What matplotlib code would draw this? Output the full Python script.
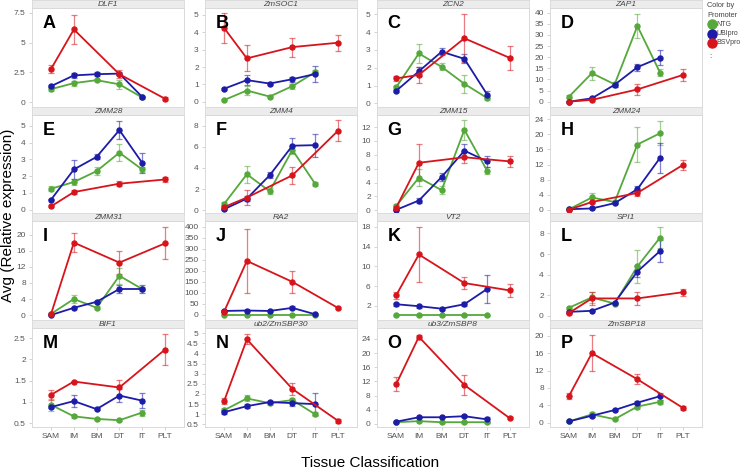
import numpy as np
import matplotlib
matplotlib.use("Agg")
import matplotlib.pyplot as plt
from matplotlib.lines import Line2D

plt.rcParams['font.family'] = ['Liberation Sans', 'DejaVu Sans']

tissues = ["SAM", "IM", "BM", "DT", "IT", "PLT"]
ntg_tissues = ["SAM", "IM", "BM", "DT", "IT"]
ubi_tissues = ["SAM", "IM", "BM", "DT", "IT"]
bsv_tissues = ["SAM", "IM", "DT", "PLT"]

genes = ["DLF1", "ZmSOC1", "ZCN2", "ZAP1",
         "ZMM28", "ZMM4", "ZMM15", "ZMM24",
         "ZMM31", "RA2", "VT2", "SPI1",
         "BIF1", "ub2/ZmSBP30", "ub3/ZmSBP8", "ZmSBP18"]
letters = list("ABCDEFGHIJKLMNOP")

# NTG (green)
ntg_vals = [
    [1.1, 1.6, 1.85, 1.5, 0.4],
    [0.1, 0.65, 0.3, 0.9, 1.7],
    [0.9, 2.8, 2.05, 1.1, 0.3],
    [2.3, 12.8, 7.8, 34, 13],
    [1.25, 1.65, 2.3, 3.4, 2.4],
    [0.6, 3.4, 1.8, 5.7, 2.5],
    [0.6, 4.7, 2.9, 11.6, 5.7],
    [0.2, 3.3, 2.1, 17.3, 20.3],
    [0.3, 4.0, 1.8, 9.8, 6.5],
    [0.5, 0.5, 0.5, 0.5, 0.5],
    [0.05, 0.05, 0.05, 0.05, 0.05],
    [0.8, 1.8, 1.2, 4.8, 7.6],
    [0.93, 0.66, 0.6, 0.57, 0.75],
    [1.2, 1.78, 1.55, 1.7, 1.0],
    [0.5, 0.8, 0.5, 0.5, 0.5],
    [0.3, 1.9, 0.8, 3.7, 4.8],
]
ntg_err = [
    [0.15, 0.2, 0.1, 0.4, 0.1],
    [0.05, 0.25, 0.05, 0.15, 0.15],
    [0.1, 0.55, 0.2, 0.5, 0.1],
    [0.5, 3, 1, 5.5, 1.5],
    [0.15, 0.15, 0.25, 0.5, 0.15],
    [0.2, 0.8, 0.3, 0.4, 0.2],
    [0.3, 1.2, 0.6, 1.4, 0.5],
    [0.2, 1.2, 0.3, 4.7, 3.2],
    [0.2, 1.0, 0.4, 2.0, 0.5],
    [0.3, 0.3, 0.3, 0.3, 0.3],
    [0.05, 0.05, 0.05, 0.05, 0.05],
    [0.1, 0.5, 0.1, 1.6, 1.0],
    [0.15, 0.03, 0.02, 0.02, 0.07],
    [0.1, 0.15, 0.1, 0.1, 0.1],
    [0.1, 0.1, 0.1, 0.1, 0.1],
    [0.1, 0.6, 0.2, 0.5, 0.4],
]

# UBIpro (blue)
ubi_vals = [
    [1.35, 2.25, 2.35, 2.4, 0.45],
    [0.75, 1.25, 1.05, 1.3, 1.6],
    [0.7, 1.8, 2.9, 2.5, 0.5],
    [0, 1.5, 7.6, 15.5, 19.8],
    [0.6, 2.4, 3.15, 4.75, 2.8],
    [0.1, 1.1, 3.3, 6.1, 6.15],
    [0.05, 1.4, 4.8, 8.6, 7.05],
    [0.2, 0.4, 1.8, 5.5, 13.8],
    [0, 1.8, 3.3, 6.5, 6.5],
    [18, 20, 18, 32, 3],
    [2.3, 1.9, 1.4, 2.3, 5.4],
    [0.4, 0.5, 1.3, 4.3, 6.3],
    [0.88, 1.02, 0.83, 1.15, 1.03],
    [1.1, 1.4, 1.6, 1.55, 1.5],
    [0.65, 1.9, 1.9, 2.2, 1.3],
    [0.3, 1.6, 2.9, 4.6, 6.1],
]
ubi_err = [
    [0.1, 0.2, 0.15, 0.15, 0.08],
    [0.05, 0.3, 0.08, 0.15, 0.45],
    [0.08, 0.25, 0.2, 0.25, 0.2],
    [0.2, 0.5, 1.0, 1.5, 3.5],
    [0.05, 0.55, 0.15, 0.55, 0.6],
    [0.05, 0.2, 0.3, 0.7, 1.1],
    [0.05, 0.3, 0.6, 0.9, 0.8],
    [0.1, 0.1, 0.3, 0.8, 3.9],
    [0.1, 0.3, 0.3, 1.0, 1.0],
    [3, 3, 3, 7, 1],
    [0.3, 0.3, 0.2, 0.4, 2.8],
    [0.1, 0.05, 0.1, 0.5, 1.1],
    [0.03, 0.15, 0.02, 0.15, 0.18],
    [0.1, 0.1, 0.05, 0.15, 0.55],
    [0.1, 0.2, 0.2, 0.2, 0.6],
    [0.1, 0.2, 0.2, 0.4, 0.8],
]

# BSVpro (red)
bsv_vals = [
    [2.8, 6.1, 2.35, 0.3],
    [4.25, 2.5, 3.15, 3.4],
    [1.4, 1.6, 3.65, 2.55],
    [0, 0.8, 5.5, 12],
    [0.2, 1.05, 1.55, 1.8],
    [0.3, 1.2, 3.3, 7.5],
    [0.35, 6.85, 7.65, 7.05],
    [0.1, 2.1, 4.5, 11.9],
    [0.3, 18.1, 13.1, 17.9],
    [15, 245, 150, 32],
    [4.1, 12.4, 6.6, 5.1],
    [0.3, 1.7, 1.7, 2.3],
    [1.17, 1.48, 1.34, 2.23],
    [1.65, 4.7, 2.25, 0.68],
    [11.2, 24.6, 11.0, 1.6],
    [6.2, 16, 10, 3.4],
]
bsv_err = [
    [0.35, 1.2, 0.35, 0.1],
    [0.85, 0.75, 0.55, 0.45],
    [0.15, 0.45, 1.35, 0.65],
    [0.2, 0.5, 2.3, 2.5],
    [0.05, 0.1, 0.15, 0.12],
    [0.1, 0.7, 0.8, 1.0],
    [0.2, 2.7, 0.9, 0.8],
    [0.1, 0.3, 0.7, 1.4],
    [0.2, 2.4, 2.9, 4.0],
    [3, 145, 50, 5],
    [0.7, 5.5, 1.3, 1.4],
    [0.1, 0.6, 0.6, 0.35],
    [0.12, 0.02, 0.18, 0.37],
    [0.15, 0.25, 0.3, 0.1],
    [2.0, 0.6, 2.8, 0.3],
    [0.7, 4.2, 1.2, 0.5],
]

# axis setup per panel
yticks = [
    [0, 2.5, 5, 7.5], np.arange(0, 6, 1), np.arange(0, 6, 1), np.arange(0, 45, 5),
    np.arange(0, 6, 1), np.arange(0, 10, 2), np.arange(0, 14, 2), np.arange(0, 28, 4),
    np.arange(0, 24, 4), np.arange(0, 450, 50), np.arange(2, 22, 4), np.arange(0, 10, 2),
    np.arange(0.5, 3.0, 0.5), np.arange(0.5, 5.5, 0.5), np.arange(0, 28, 4), np.arange(0, 24, 4),
]
ylims = [
    (-0.4, 7.9), (-0.3, 5.4), (-0.2, 5.35), (-2.4, 42.1),
    (-0.2, 5.65), (-0.26, 9.0), (-0.4, 13.75), (-0.8, 25.1),
    (-1.25, 23.5), (-23, 426), (-0.9, 19.2), (-0.39, 9.2),
    (0.41, 2.74), (0.37, 5.26), (-0.85, 27.1), (-1.0, 21.8),
]

C_NTG = "#55a83a"
C_UBI = "#1c1ca8"
C_BSV = "#d7141c"

W, H = 740, 471
fig = plt.figure(figsize=(W / 100, H / 100), dpi=100)

col_left = [32, 205, 377, 550]
pw = 152
row_top = [8, 115, 221, 328]
row_bot = [107, 213, 320, 427]
strip_h = 8

xpos = {t: i for i, t in enumerate(tissues)}


def series(ax, names, vals, err, color):
    x = [xpos[t] for t in names]
    ax.errorbar(x, vals, yerr=err, fmt="none", ecolor=color, alpha=0.55,
                elinewidth=0.9, capsize=2.5, capthick=0.9, zorder=2)
    ax.plot(x, vals, "-o", color=color, lw=1.3, ms=3.6, zorder=3)


for i in range(16):
    r, c = divmod(i, 4)
    l = col_left[c]
    t = row_top[r]
    b = row_bot[r]
    ax = fig.add_axes([l / W, 1 - b / H, pw / W, (b - t) / H])
    series(ax, ntg_tissues, ntg_vals[i], ntg_err[i], C_NTG)
    series(ax, ubi_tissues, ubi_vals[i], ubi_err[i], C_UBI)
    series(ax, bsv_tissues, bsv_vals[i], bsv_err[i], C_BSV)
    ax.set_xlim(-0.84, 5.84)
    ax.set_ylim(*ylims[i])
    ax.set_yticks(yticks[i])
    ax.set_yticklabels(["%g" % v for v in yticks[i]])
    ax.set_xticks(range(len(tissues)))
    if r == 3:
        ax.set_xticklabels(tissues)
    else:
        ax.set_xticklabels([])
        ax.tick_params(axis="x", length=0)
    ax.tick_params(labelsize=6, labelcolor="#555555", color="#cccccc",
                   length=2.5, width=0.6, pad=2)
    for s in ax.spines.values():
        s.set_color("#d9d9d9")
        s.set_linewidth(0.7)
    ax.text(0.07, 0.93, letters[i], transform=ax.transAxes, fontsize=13,
            fontweight="bold", va="top", ha="left")

    # strip header with gene name
    sx = fig.add_axes([l / W, 1 - t / H, pw / W, strip_h / H])
    sx.set_facecolor("#ececec")
    sx.set_xticks([])
    sx.set_yticks([])
    for s in sx.spines.values():
        s.set_color("#d9d9d9")
        s.set_linewidth(0.6)
    sx.text(0.5, 0.45, genes[i], transform=sx.transAxes, fontsize=6,
            style="italic", color="#444444", ha="center", va="center")

fig.text(8 / W, 1 - 215 / H, "Avg (Relative expression)", rotation=90,
         fontsize=11, ha="center", va="center")
fig.text(370 / W, 1 - 463 / H, "Tissue Classification", fontsize=11,
         ha="center", va="center")

# legend drawn by hand in figure pixels
fig.text(707 / W, 1 - 2 / H, "Color by\nPromoter", fontsize=5.3, color="#444444",
         ha="left", va="top", linespacing=1.6)
leg_labels = ["NTG", "UBIpro", "BSVpro"]
leg_colors = [C_NTG, C_UBI, C_BSV]
for k, (lab, col) in enumerate(zip(leg_labels, leg_colors)):
    yy = 1 - (24 + 9.5 * k) / H
    fig.add_artist(Line2D([711.5 / W], [yy], marker="o", ms=6.5, color=col,
                          ls="none", transform=fig.transFigure))
    fig.text(716.5 / W, yy, lab, fontsize=5, color="#444444", ha="left", va="center")
fig.text(709 / W, 1 - 57 / H, ":", fontsize=6, color="#444444", ha="left", va="center")

fig.savefig("out.png", dpi=100)
